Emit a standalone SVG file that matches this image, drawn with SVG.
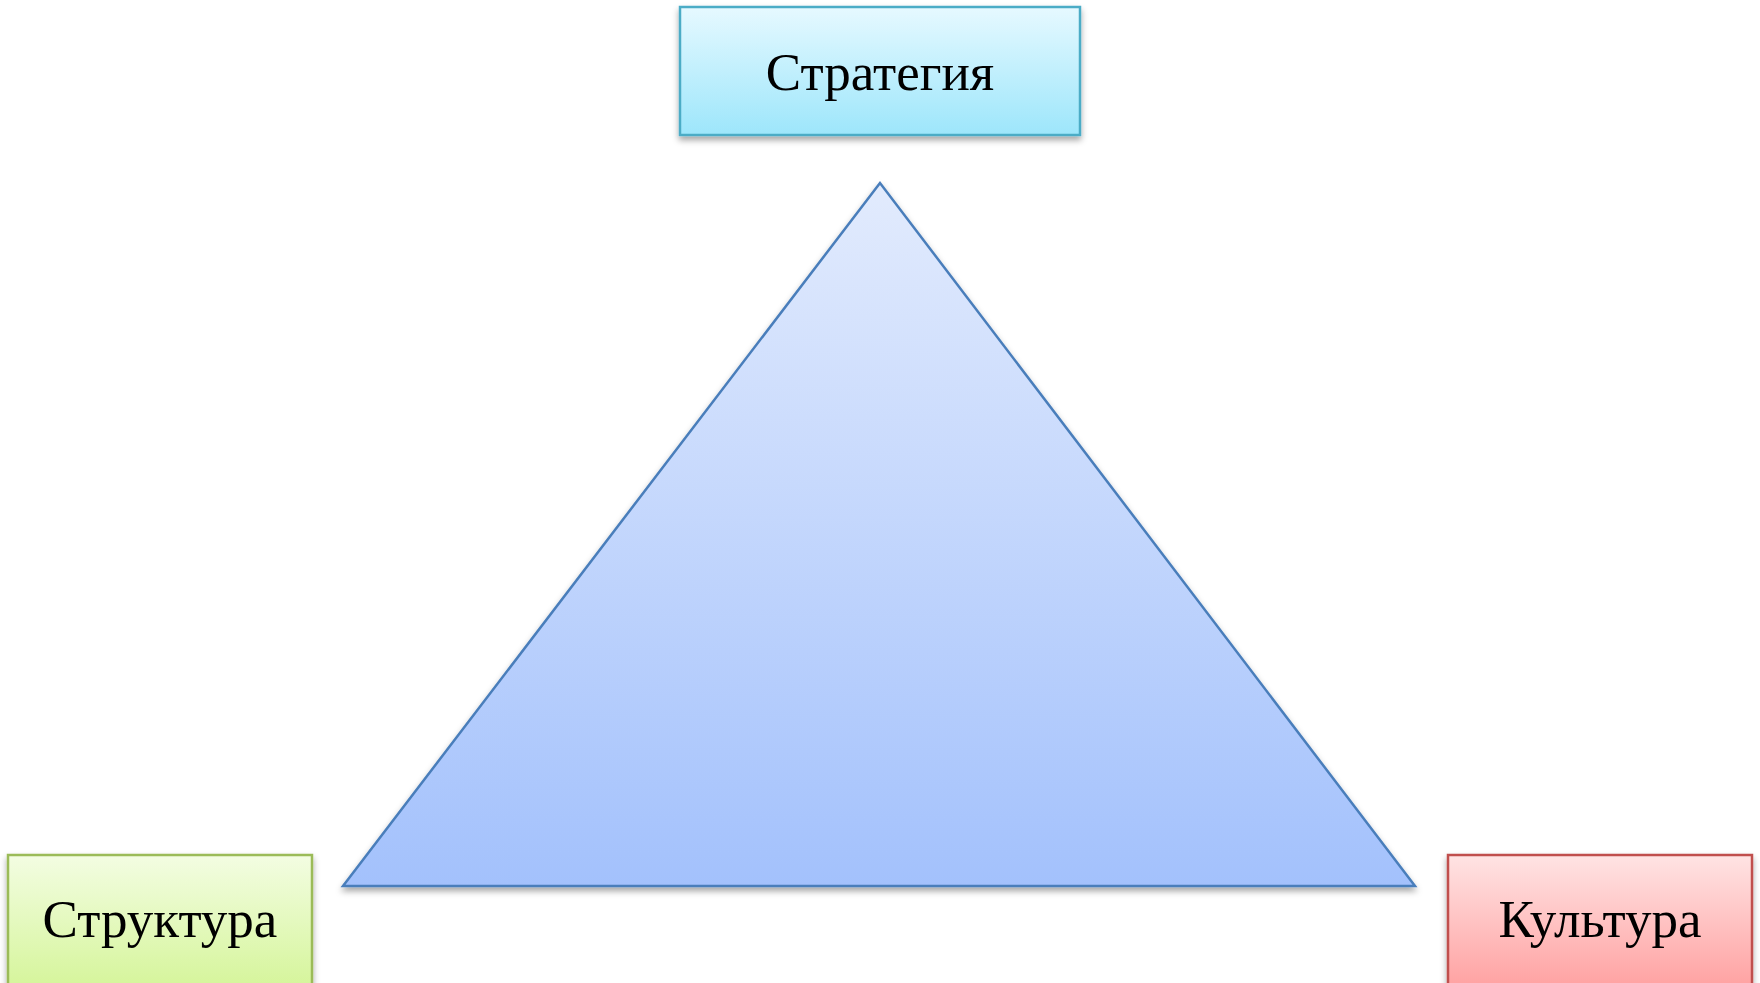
<svg xmlns="http://www.w3.org/2000/svg" width="1760" height="983" viewBox="0 0 1760 983">
<defs>
<linearGradient id="gBlue" x1="0" y1="0" x2="0" y2="1"><stop offset="0" stop-color="#e6f9ff"/><stop offset="1" stop-color="#9de6fb"/></linearGradient>
<linearGradient id="gGreen" x1="0" y1="0" x2="0" y2="1"><stop offset="0" stop-color="#f3fde2"/><stop offset="1" stop-color="#d6f59c"/></linearGradient>
<linearGradient id="gRed" x1="0" y1="0" x2="0" y2="1"><stop offset="0" stop-color="#ffe4e4"/><stop offset="1" stop-color="#ffa3a3"/></linearGradient>
<linearGradient id="gTri" x1="0" y1="0" x2="0" y2="1"><stop offset="0" stop-color="#e2ebfd"/><stop offset="1" stop-color="#a3c1fc"/></linearGradient>
<filter id="sh" x="-10%" y="-10%" width="120%" height="130%"><feDropShadow dx="0" dy="4" stdDeviation="3" flood-color="#000" flood-opacity="0.35"/></filter>
</defs>
<style>
.lbl{font-family:"Liberation Serif","Times New Roman",serif;font-size:53px;fill:#000;text-anchor:middle}
.box{stroke-width:2.5;filter:url(#sh)}
</style>
<rect width="1760" height="983" fill="#fff"/>
<g id="triangle">
<polygon points="880,183 343,886 1415,886" fill="url(#gTri)" stroke="#4a7ebb" stroke-width="2.5" stroke-linejoin="miter" filter="url(#sh)"/>
</g>
<g id="strategy">
<rect class="box" x="680" y="7" width="400" height="128" fill="url(#gBlue)" stroke="#4bacc6"/>
<text class="lbl" x="880" y="90">Стратегия</text>
</g>
<g id="structure">
<rect class="box" x="8" y="855" width="304" height="130" fill="url(#gGreen)" stroke="#9bbb59"/>
<text class="lbl" x="160" y="937">Структура</text>
</g>
<g id="culture">
<rect class="box" x="1448" y="855" width="304" height="130" fill="url(#gRed)" stroke="#c0504d"/>
<text class="lbl" x="1600" y="937">Культура</text>
</g>
<g id="connectors"></g>
</svg>
